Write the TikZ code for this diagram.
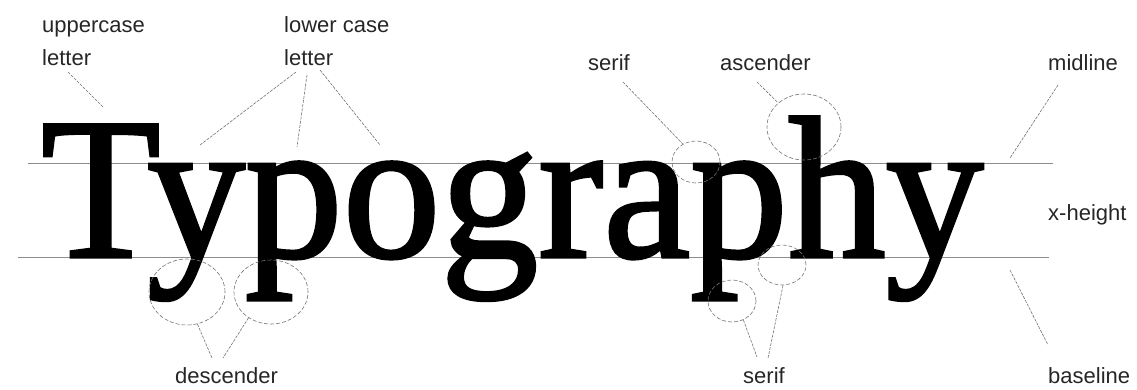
\documentclass[tikz,border=0pt]{standalone}
\usepackage{fontspec}
\setmainfont{Liberation Serif}
\newfontfamily\labelfont{Liberation Sans}
\newfontfamily\wordfont[FakeBold=1.6]{Liberation Serif}
\usetikzlibrary{shapes.geometric}
\tikzset{
  lbl/.style={anchor=base west, inner sep=0pt, font=\labelfont\fontsize{22}{22}\selectfont, text=black!85},
  guide/.style={draw=black!45, line width=0.9pt},
  pointer/.style={draw=black!55, line width=0.6pt, dash pattern=on 3pt off 1.2pt},
  ring/.style={ellipse, draw=black!55, line width=0.6pt, dash pattern=on 4pt off 2pt, inner sep=0pt},
}
\begin{document}
\begin{tikzpicture}[x=1pt,y=-1pt]
\useasboundingbox (0,0) rectangle (1137,389);
% guide lines
\coordinate (ml1) at (28,163);
\coordinate (ml2) at (1053,163);
\coordinate (bl1) at (18,257);
\coordinate (bl2) at (1049,257);
\draw[guide] (ml1) -- (ml2);
\draw[guide] (bl1) -- (bl2);
% the word
\node[anchor=base west, inner sep=0pt, font=\wordfont\fontsize{202}{202}\selectfont] (word) at (41,257) {\scalebox{0.968}[1]{Typography}};
% labels
\node[lbl] (uc1) at (42,32) {uppercase};
\node[lbl] (uc2) at (42,65) {letter};
\node[lbl] (lc1) at (284,32) {lower case};
\node[lbl] (lc2) at (284,65) {letter};
\node[lbl] (sft) at (588,70) {serif};
\node[lbl] (asc) at (720,70) {ascender};
\node[lbl] (mid) at (1048,70) {midline};
\node[lbl] (xh) at (1048,220) {x-height};
\node[lbl] (bas) at (1048,383) {baseline};
\node[lbl] (desc) at (175,383) {descender};
\node[lbl] (sfb) at (743,383) {serif};
% rings
\node[ring, minimum width=76pt, minimum height=66pt] (d1) at (187,292) {};
\node[ring, minimum width=74pt, minimum height=64pt] (d2) at (271,292) {};
\node[ring, minimum width=48pt, minimum height=42pt] (s1) at (696,162) {};
\node[ring, minimum width=74pt, minimum height=66pt] (a1) at (804,127) {};
\node[ring, minimum width=48pt, minimum height=42pt] (s2) at (732,301) {};
\node[ring, minimum width=48pt, minimum height=40pt] (s3) at (782,265) {};
% pointer end points
\coordinate (ucA) at (68,72);
\coordinate (ucB) at (103,107);
\coordinate (lcA) at (296,72);
\coordinate (lcB) at (307,75);
\coordinate (lcC) at (320,70);
\coordinate (lcT) at (200,145);
\coordinate (lcO) at (297,147);
\coordinate (lcP) at (380,145);
\coordinate (sfA) at (623,82);
\coordinate (ascA) at (757,82);
\coordinate (midA) at (1058,85);
\coordinate (midB) at (1010,158);
\coordinate (basA) at (1010,270);
\coordinate (basB) at (1048,345);
\coordinate (dA) at (212,358);
\coordinate (dB) at (223,358);
\coordinate (sbA) at (757,357);
\coordinate (sbB) at (768,358);
% pointers
\draw[pointer] (ucA) -- (ucB);
\draw[pointer] (lcA) -- (lcT);
\draw[pointer] (lcB) -- (lcO);
\draw[pointer] (lcC) -- (lcP);
\draw[pointer] (sfA) -- (s1.126);
\draw[pointer] (ascA) -- (a1.137);
\draw[pointer] (midA) -- (midB);
\draw[pointer] (basA) -- (basB);
\draw[pointer] (d1.-72) -- (dA);
\draw[pointer] (d2.-131) -- (dB);
\draw[pointer] (s2.-59) -- (sbA);
\draw[pointer] (s3.-87) -- (sbB);
\end{tikzpicture}
\end{document}
